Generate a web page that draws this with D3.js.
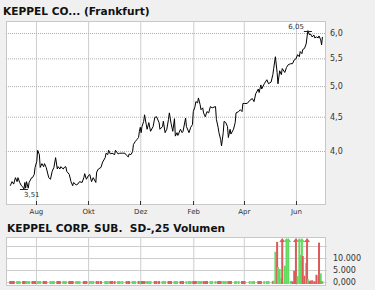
<!DOCTYPE html>
<html>
<head>
<meta charset="utf-8">
<script src="https://cdn.jsdelivr.net/npm/d3@7/dist/d3.min.js"></script>
<style>
    body { margin: 0; background: #f0f0f0; }
    svg { display: block; }
    text { font-family: "DejaVu Sans", Verdana, sans-serif; }
</style>
</head>
<body>
<div id="chart"></div>
<script>

// price series (EUR, Frankfurt), one entry per sampled trading day
var priceDates = [
    "2017-07-02","2017-07-04","2017-07-06","2017-07-08","2017-07-10","2017-07-11","2017-07-13","2017-07-15","2017-07-17","2017-07-18",
    "2017-07-19","2017-07-20","2017-07-21","2017-07-23","2017-07-24","2017-07-27","2017-07-28","2017-07-30","2017-07-31",
    "2017-08-02","2017-08-03","2017-08-05","2017-08-06","2017-08-08","2017-08-10","2017-08-11","2017-08-13","2017-08-16","2017-08-18",
    "2017-08-20","2017-08-22","2017-08-24","2017-08-26","2017-08-27","2017-08-29","2017-08-30",
    "2017-09-02","2017-09-03","2017-09-05","2017-09-06","2017-09-09","2017-09-11","2017-09-13","2017-09-14","2017-09-17","2017-09-19",
    "2017-09-21","2017-09-24","2017-09-26","2017-09-27","2017-09-29",
    "2017-10-01","2017-10-03","2017-10-05","2017-10-07","2017-10-10","2017-10-11","2017-10-13","2017-10-16","2017-10-18","2017-10-21",
    "2017-10-22","2017-10-24","2017-10-25","2017-10-27","2017-10-29",
    "2017-11-01","2017-11-02","2017-11-05","2017-11-07","2017-11-10","2017-11-13","2017-11-15","2017-11-17","2017-11-18","2017-11-20",
    "2017-11-22","2017-11-23","2017-11-25","2017-11-27","2017-11-29","2017-11-30",
    "2017-12-01","2017-12-02","2017-12-03","2017-12-05","2017-12-06","2017-12-08","2017-12-09","2017-12-11","2017-12-13","2017-12-16",
    "2017-12-18","2017-12-20","2017-12-23","2017-12-24","2017-12-27","2017-12-28","2017-12-30",
    "2018-01-01","2018-01-03","2018-01-04","2018-01-06","2018-01-08","2018-01-10","2018-01-11","2018-01-13","2018-01-14","2018-01-17",
    "2018-01-19","2018-01-20","2018-01-23","2018-01-24","2018-01-27","2018-01-29","2018-01-31",
    "2018-02-01","2018-02-03","2018-02-04","2018-02-06","2018-02-07","2018-02-09","2018-02-10","2018-02-12","2018-02-13","2018-02-15",
    "2018-02-17","2018-02-19","2018-02-21","2018-02-23","2018-02-27","2018-02-28",
    "2018-03-02","2018-03-03","2018-03-05","2018-03-06","2018-03-08","2018-03-09","2018-03-11","2018-03-13","2018-03-14","2018-03-16",
    "2018-03-17","2018-03-20","2018-03-22","2018-03-23","2018-03-26","2018-03-28","2018-03-30","2018-03-31",
    "2018-04-02","2018-04-05","2018-04-08","2018-04-11","2018-04-13","2018-04-15","2018-04-18","2018-04-19","2018-04-21","2018-04-22",
    "2018-04-25","2018-04-28","2018-04-30",
    "2018-05-03","2018-05-05","2018-05-06","2018-05-08","2018-05-10","2018-05-11","2018-05-13","2018-05-15","2018-05-16","2018-05-19",
    "2018-05-21","2018-05-23","2018-05-26","2018-05-28","2018-05-30",
    "2018-06-01","2018-06-03","2018-06-05","2018-06-06","2018-06-08","2018-06-09","2018-06-11","2018-06-13","2018-06-14","2018-06-15",
    "2018-06-17","2018-06-18","2018-06-20","2018-06-22","2018-06-23","2018-06-25","2018-06-27","2018-06-28","2018-06-30",
    "2018-07-01","2018-07-02"
];

var closes = [
    3.55,3.60,3.57,3.65,3.60,3.65,3.59,3.55,3.53,3.51,3.59,3.52,3.60,3.52,3.59,3.65,3.65,3.69,3.78,
    3.86,4.01,3.95,3.78,3.83,3.79,3.83,3.78,3.65,3.63,3.73,3.78,3.91,3.76,3.79,3.76,3.79,
    3.76,3.78,3.79,3.73,3.69,3.60,3.55,3.59,3.56,3.57,3.60,3.59,3.65,3.70,3.63,
    3.67,3.69,3.60,3.65,3.59,3.72,3.76,3.78,3.85,3.91,3.97,3.95,4.01,3.96,3.97,
    3.95,4.01,3.96,3.97,3.97,3.97,3.94,3.92,3.96,3.95,3.99,4.09,4.13,4.16,4.19,4.28,
    4.34,4.26,4.35,4.43,4.53,4.38,4.31,4.41,4.28,4.35,4.49,4.50,4.41,4.31,4.35,4.43,4.26,
    4.31,4.46,4.56,4.40,4.28,4.47,4.21,4.26,4.22,4.31,4.26,4.28,4.48,4.35,4.26,4.34,4.38,
    4.58,4.66,4.74,4.72,4.80,4.69,4.61,4.64,4.56,4.50,4.58,4.56,4.66,4.64,4.66,4.46,
    4.34,4.26,4.16,4.07,4.26,4.43,4.41,4.35,4.19,4.31,4.24,4.31,4.41,4.56,4.58,4.61,4.58,4.71,
    4.71,4.71,4.76,4.79,4.74,4.87,4.95,4.89,5.02,4.95,5.04,5.11,5.04,
    5.07,5.20,5.31,5.53,5.24,5.04,5.27,5.20,5.31,5.24,5.33,5.38,5.40,5.40,5.47,
    5.49,5.57,5.53,5.63,5.59,5.67,5.69,5.78,5.92,6.05,5.96,5.98,5.92,5.96,5.90,5.92,5.90,5.94,5.86,
    5.76,5.92
];

// volume per price date, u = up (green), d = down (red)
var volumes = [
    400,380,420,0,410,390,400,0,380,420,400,0,400,410,390,0,420,400,380,
    0,400,390,410,0,420,380,400,0,390,410,400,0,380,420,400,0,
    410,390,400,0,420,380,400,0,390,410,400,0,380,420,400,
    0,410,390,400,0,420,380,400,0,390,410,400,0,380,420,
    400,0,410,390,400,0,420,380,400,0,390,410,400,0,380,420,
    400,0,410,390,400,0,420,380,400,0,390,410,400,0,380,420,400,
    0,410,390,400,0,420,380,400,0,390,410,400,0,380,420,400,0,
    410,390,400,0,420,380,400,0,390,410,400,0,380,420,400,0,
    410,390,400,0,420,380,400,0,390,410,400,0,380,420,400,0,410,390,
    400,0,420,380,400,0,390,410,400,0,380,420,400,
    0,400,600,12600,16700,6250,5400,1700,25000,6800,25000,25000,500,300,4700,
    25000,2500,25000,11250,25000,10800,2600,7900,25000,1200,300,600,700,300,200,3000,2400,16400,3600,
    300,300
];

var volDirections =
    "ddd-uuu-ddd-uuu-ddd" +
    "-uuu-ddd-uuu-ddd-" +
    "uuu-ddd-uuu-ddd" +
    "-uuu-ddd-uuu-dd" +
    "d-uuu-ddd-uuu-dd" +
    "u-ddd-uuu-ddd-uuu" +
    "-ddd-uuu-ddd-uuu-" +
    "ddd-uuu-ddd-uuu-" +
    "ddd-uuu-ddd-uuu-dd" +
    "d-uuu-ddd-uuu" +
    "-duuduuuduuuudd" +
    "duuuuddududdduddudu" +
    "du";

var monthTicks = ["2017-08-01","2017-10-01","2017-12-01","2018-02-01","2018-04-01","2018-06-01"];
var monthLabels = ["Aug","Okt","Dez","Feb","Apr","Jun"];
var priceTicks = [4.0, 4.5, 5.0, 5.5, 6.0];
var priceTickLabels = ["4,0","4,5","5,0","5,5","6,0"];
var volTicks = [0, 5000, 10000, 15000];
var volTickLabels = ["0,000","5.000","10.000",""];
var dateRange = ["2017-06-27","2018-07-05"];
var priceRange = [3.334, 6.253];
var volRange = [0, 15000];
var chartTitle = "KEPPEL CO... (Frankfurt)";
var volTitle = "KEPPEL CORP. SUB.  SD-,25 Volumen";

function KeppelChart(){
    var width = 375, height = 290;
    var plot = {left: 6, right: 325, top: 21, bottom: 204};
    var vplot = {top: 237, bottom: 285};
    var red = "#dc5a5a", green = "#5fdc5f";

    var parse = d3.timeParse("%Y-%m-%d");

    var data = priceDates.map(function(d, i){
        return {date: parse(d), close: closes[i], vol: volumes[i], dir: volDirections[i]};
    });
    var ticks = monthTicks.map(parse);

    // scales
    var x = d3.scaleTime()
        .domain(dateRange.map(parse))
        .range([plot.left, plot.right]);

    var y = d3.scaleLog()
        .domain(priceRange)
        .range([plot.bottom, plot.top]);

    var yv = d3.scaleLinear()
        .domain(volRange)
        .range([282, 246]);

    var svg = d3.select("#chart")
        .append("svg")
        .attr("width", width)
        .attr("height", height);

    // titles
    svg.append("text")
        .attr("x", 3)
        .attr("y", 15)
        .style("font-size", "10.6px")
        .style("font-weight", "bold")
        .attr("fill", "#111")
        .text(chartTitle);

    svg.append("text")
        .attr("x", 7)
        .attr("y", 232)
        .style("font-size", "10.6px")
        .style("font-weight", "bold")
        .style("white-space", "pre")
        .attr("fill", "#111")
        .text(volTitle);

    // plot backgrounds
    svg.append("rect")
        .attr("x", plot.left + 0.5)
        .attr("y", plot.top + 0.5)
        .attr("width", plot.right - plot.left)
        .attr("height", plot.bottom - plot.top)
        .attr("fill", "#fff")
        .attr("stroke", "#c8c8c8");

    svg.append("rect")
        .attr("x", plot.left + 0.5)
        .attr("y", vplot.top + 0.5)
        .attr("width", plot.right - plot.left)
        .attr("height", vplot.bottom - vplot.top)
        .attr("fill", "#fff")
        .attr("stroke", "#c8c8c8");

    // vertical month gridlines, both panels
    svg.append("g")
        .attr("class", "grid")
        .attr("transform", "translate(0," + plot.bottom + ")")
        .call(d3.axisBottom(x)
            .tickValues(ticks)
            .tickSize(-(plot.bottom - plot.top))
            .tickFormat("")
        );

    svg.append("g")
        .attr("class", "grid")
        .attr("transform", "translate(0," + vplot.bottom + ")")
        .call(d3.axisBottom(x)
            .tickValues(ticks)
            .tickSize(-(vplot.bottom - vplot.top))
            .tickFormat("")
        );

    // dotted price gridlines
    svg.append("g")
        .attr("class", "grid dotted")
        .attr("transform", "translate(" + plot.left + ",0)")
        .call(d3.axisLeft(y)
            .tickValues(priceTicks)
            .tickSize(-(plot.right - plot.left))
            .tickFormat("")
        );

    // volume gridlines
    svg.append("g")
        .attr("class", "grid")
        .attr("transform", "translate(" + (plot.right + 2) + ",0)")
        .call(d3.axisRight(yv)
            .tickValues(volTicks)
            .tickSize(-(plot.right - plot.left + 2))
            .tickFormat("")
        );

    svg.selectAll(".grid .domain").remove();
    svg.selectAll(".grid line").attr("stroke", "#cdcdcd");
    svg.selectAll(".grid.dotted line")
        .attr("stroke", "#b0b0b0")
        .attr("stroke-dasharray", "1,1");

    // small dark ticks at the bottom of the price panel
    svg.append("g")
        .selectAll("line")
        .data(ticks)
        .enter()
        .append("line")
        .attr("x1", function(d){ return Math.round(x(d)) + 0.5; })
        .attr("x2", function(d){ return Math.round(x(d)) + 0.5; })
        .attr("y1", plot.bottom - 3)
        .attr("y2", plot.bottom + 1)
        .attr("stroke", "#333");

    // month labels
    var xAxis = svg.append("g")
        .attr("transform", "translate(0," + plot.bottom + ")")
        .call(d3.axisBottom(x)
            .tickValues(ticks)
            .tickSize(0)
            .tickPadding(5)
            .tickFormat(function(d, i){ return monthLabels[i]; })
        );

    // price labels
    var yAxis = svg.append("g")
        .attr("transform", "translate(" + plot.right + ",0)")
        .call(d3.axisRight(y)
            .tickValues(priceTicks)
            .tickSize(0)
            .tickPadding(5)
            .tickFormat(function(d, i){ return priceTickLabels[i]; })
        );

    // volume labels
    var vAxis = svg.append("g")
        .attr("transform", "translate(" + plot.right + ",0)")
        .call(d3.axisRight(yv)
            .tickValues(volTicks)
            .tickSize(0)
            .tickPadding(8)
            .tickFormat(function(d, i){ return volTickLabels[i]; })
        );

    [xAxis, yAxis, vAxis].forEach(function(g){
        g.select(".domain").remove();
        g.selectAll("text")
            .attr("fill", "#333")
            .style("font-family", "'DejaVu Sans', Verdana, sans-serif");
    });
    xAxis.selectAll("text").style("font-size", "7px");
    yAxis.selectAll("text").style("font-size", "8px");
    vAxis.selectAll("text").style("font-size", "8px");

    // price line
    var line = d3.line()
        .x(function(d){ return x(d.date); })
        .y(function(d){ return y(d.close); });

    svg.append("path")
        .datum(data)
        .attr("d", line)
        .attr("fill", "none")
        .attr("stroke", "#000")
        .attr("stroke-width", 1);

    // min and max markers
    var lo = data[d3.minIndex(data, function(d){ return d.close; })];
    var hi = data[d3.maxIndex(data, function(d){ return d.close; })];
    var fmt = function(v){ return d3.format(".2f")(v).replace(".", ","); };

    [lo, hi].forEach(function(d){
        svg.append("line")
            .attr("x1", x(d.date) - 4)
            .attr("x2", x(d.date) + 4)
            .attr("y1", Math.round(y(d.close)) + 0.5)
            .attr("y2", Math.round(y(d.close)) + 0.5)
            .attr("stroke", "#222");
    });

    svg.append("text")
        .attr("x", x(lo.date))
        .attr("y", y(lo.close) + 8)
        .style("font-size", "7px")
        .attr("fill", "#333")
        .text(fmt(lo.close));

    svg.append("text")
        .attr("x", x(hi.date) - 4)
        .attr("y", y(hi.close) - 2)
        .attr("text-anchor", "end")
        .style("font-size", "7px")
        .attr("fill", "#333")
        .text(fmt(hi.close));

    // volume bars, clipped ones get an arrow head
    var vTop = vplot.top + 4;
    var vBase = yv(0) + 2;
    var bars = data.filter(function(d){ return d.vol > 0; });

    svg.append("g")
        .selectAll("rect")
        .data(bars)
        .enter()
        .append("rect")
        .attr("x", function(d){ return x(d.date) - 1; })
        .attr("y", function(d){ return Math.max(yv(d.vol), vTop); })
        .attr("width", 2)
        .attr("height", function(d){ return vBase - Math.max(yv(d.vol), vTop); })
        .style("fill", function(d){ return d.dir === "d" ? red : green; });

    svg.append("g")
        .selectAll("path")
        .data(bars.filter(function(d){ return yv(d.vol) < vTop; }))
        .enter()
        .append("path")
        .attr("d", function(d){
            var cx = x(d.date);
            return "M" + (cx - 3) + "," + (vTop + 1) + "L" + cx + "," + (vTop - 3) + "L" + (cx + 3) + "," + (vTop + 1) + "Z";
        })
        .style("fill", function(d){ return d.dir === "d" ? red : green; });
}

KeppelChart();

</script>
</body>
</html>
